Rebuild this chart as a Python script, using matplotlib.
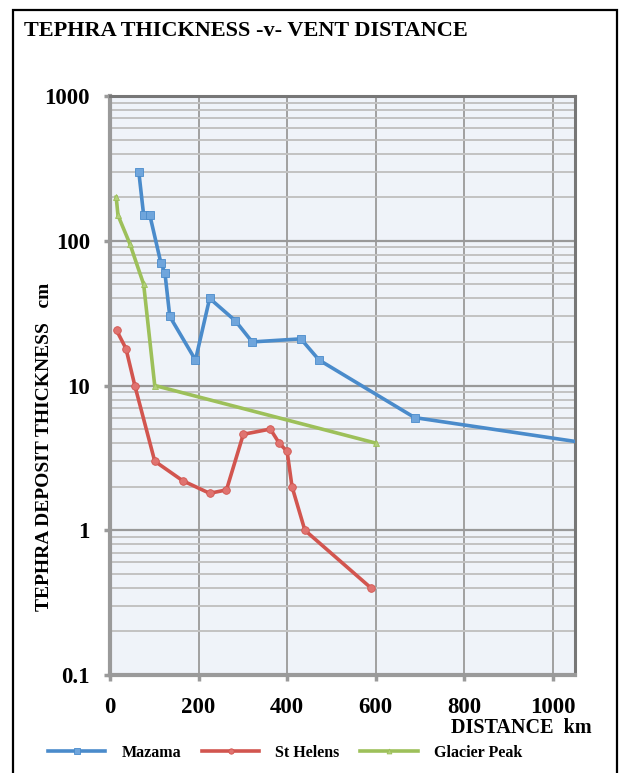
import numpy as np
import matplotlib
matplotlib.use("Agg")
import matplotlib.pyplot as plt
from matplotlib.patches import Rectangle
from matplotlib.ticker import FixedLocator, NullFormatter, FixedFormatter

# distance from vent (km) and tephra thickness (cm)
mazama_x = [65, 76, 90, 115, 124, 135, 193, 225, 283, 321, 431, 472, 688, 1150]
mazama_y = [300, 150, 150, 70, 60, 30, 15, 40, 28, 20, 21, 15, 6, 3.7]

helens_x = [15, 36, 56, 101, 164, 225, 263, 301, 362, 382, 400, 411, 440, 589]
helens_y = [24, 18, 10, 3, 2.2, 1.8, 1.9, 4.6, 5, 4, 3.5, 2, 1, 0.4]

glacier_x = [14, 18, 45, 76, 101, 600]
glacier_y = [200, 150, 95, 50, 10, 4]

x_ticks = [0, 200, 400, 600, 800, 1000]
y_ticks = [0.1, 1, 10, 100, 1000]
y_labels = ["0.1", "1", "10", "100", "1000"]

blue = "#4a8bcb"
red = "#d2554f"
green = "#9dc05a"
serif = "Liberation Serif"

fig = plt.figure(figsize=(6.19, 7.73), dpi=100)
ax = fig.add_axes([110/619, 1-675/773, 465/619, 579/773])
ax.set_facecolor("#eff3f9")

ax.plot(mazama_x, mazama_y, "-s", color=blue, lw=2.6, ms=5.5,
        mfc="#6fa5dc", mec=blue, mew=0.6, label="Mazama", zorder=4)
ax.plot(helens_x, helens_y, "-o", color=red, lw=2.6, ms=5.5,
        mfc="#e07370", mec=red, mew=0.6, label="St Helens", zorder=4)
ax.plot(glacier_x, glacier_y, "-^", color=green, lw=2.6, ms=5,
        mfc="#b2d07a", mec=green, mew=0.6, label="Glacier Peak", zorder=4)

ax.set_yscale("log")
ax.set_xlim(0, 1050)
ax.set_ylim(0.1, 1000)

minor = [m * 10.0**e for e in range(-1, 3) for m in range(2, 10)]
ax.yaxis.set_major_locator(FixedLocator(y_ticks))
ax.yaxis.set_major_formatter(FixedFormatter(y_labels))
ax.yaxis.set_minor_locator(FixedLocator(minor))
ax.yaxis.set_minor_formatter(NullFormatter())
ax.set_xticks(x_ticks)

ax.grid(True, which="major", axis="y", color="#999999", lw=1.6)
ax.grid(True, which="minor", axis="y", color="#c2c2c2", lw=1.4)
ax.grid(True, which="major", axis="x", color="#a0a0a0", lw=1.4)
ax.set_axisbelow(True)

for s in ["left", "bottom"]:
    ax.spines[s].set_color("#9a9a9a")
    ax.spines[s].set_linewidth(3)
for s in ["top", "right"]:
    ax.spines[s].set_color("#777777")
    ax.spines[s].set_linewidth(2.2)

ax.tick_params(which="major", length=4.5, width=2.5, color="#9a9a9a", direction="out")
ax.tick_params(which="minor", length=0)
ax.tick_params(axis="y", pad=10)
ax.tick_params(axis="x", pad=11)
for lab in ax.get_xticklabels() + ax.get_yticklabels():
    lab.set_fontfamily(serif)
    lab.set_fontweight("bold")
    lab.set_fontsize(16.5)

fig.text(24/619, 1-21/773, "TEPHRA THICKNESS -v- VENT DISTANCE", family=serif,
         weight="bold", fontsize=16, ha="left", va="top")
fig.text(45/619, 1-447/773, "TEPHRA DEPOSIT THICKNESS   cm", family=serif,
         weight="bold", fontsize=14, rotation=90, ha="center", va="center")
fig.text(592/619, 1-728/773, "DISTANCE  km", family=serif, weight="bold",
         fontsize=14.5, ha="right", va="center")

fig.legend(loc="center", bbox_to_anchor=(285/619, 1-753/773), ncol=3,
           frameon=False, prop={"family": serif, "weight": "bold", "size": 11.5},
           handlelength=3.6, handletextpad=1.0, columnspacing=1.3, markerscale=0.7)

fig.add_artist(Rectangle((13/619, -0.02), 604/619, 1.02-10/773,
                         transform=fig.transFigure, fill=False,
                         edgecolor="black", lw=1.6))

fig.savefig("out.png", dpi=100)
